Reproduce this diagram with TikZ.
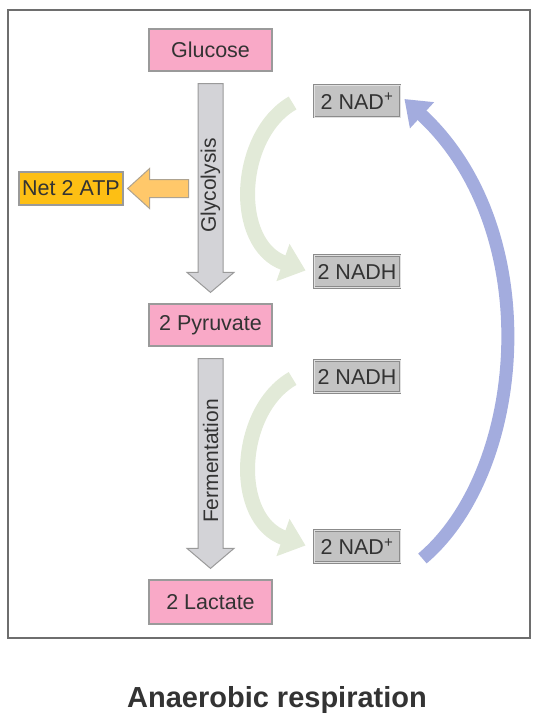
\documentclass[tikz,border=0pt]{standalone}
\usepackage{fontspec}
\setmainfont{Liberation Sans}
\usetikzlibrary{arrows.meta,positioning,calc}
\definecolor{pinkbox}{HTML}{F9A9C7}
\definecolor{nadgray}{HTML}{C3C3C3}
\definecolor{atpyellow}{HTML}{FDBF14}
\definecolor{atporange}{HTML}{FFC86A}
\definecolor{stepgray}{HTML}{D3D3D7}
\definecolor{cyclegreen}{HTML}{E2EAD8}
\definecolor{cycleblue}{HTML}{A3ACDE}
\definecolor{textdark}{HTML}{333333}
\definecolor{framegray}{HTML}{6E6E6E}
\definecolor{edgegray}{HTML}{9A9A9A}

% block arrow from one metabolite box down to the next one
\newcommand{\steparrow}[3]{%
  \draw[stepshape] ($(#1.south)+(-12.5,12)$) -- ($(#1.south)+(12.5,12)$)
    -- ($(#2.north)+(12.5,-31)$) -- ($(#2.north)+(23.5,-31)$)
    -- ($(#2.north)+(0,-11)$) -- ($(#2.north)+(-23.5,-31)$)
    -- ($(#2.north)+(-12.5,-31)$) -- cycle;
  \path ($(#1.south)+(0,12)$) -- node[pos=0.54, steplabel] {#3} ($(#2.north)+(0,-31)$);}

\begin{document}
\begin{tikzpicture}[x=1pt, y=-1pt,
    metabox/.style={rectangle, draw=edgegray, line width=1.2pt, fill=pinkbox,
                    minimum width=123pt, minimum height=42pt, inner sep=2pt,
                    text=textdark, font=\fontsize{21.5}{25}\selectfont},
    nadbox/.style={rectangle, draw=edgegray!90!black, double=white!88!black, double distance=0.8pt,
                   line width=0.8pt, fill=nadgray, minimum width=86pt, minimum height=32pt,
                   inner sep=1pt, text=textdark, font=\fontsize{21.5}{25}\selectfont},
    atpbox/.style={rectangle, draw=edgegray, line width=1.2pt, fill=atpyellow,
                   minimum width=104pt, minimum height=33pt, inner sep=1pt,
                   text=textdark, font=\fontsize{21.5}{25}\selectfont},
    stepshape/.style={draw=edgegray, line width=1pt, fill=stepgray, line join=miter},
    steplabel/.style={rotate=90, text=textdark, font=\fontsize{21}{25}\selectfont},
    atpshape/.style={draw=edgegray!80!atporange, line width=1pt, fill=atporange},
    greenloop/.style={draw=cyclegreen, line width=15pt, -{Triangle[width=38pt, length=24pt]}},
    blueloop/.style={draw=cycleblue, line width=13pt, -{Triangle[width=34pt, length=24pt]}}
  ]
  \useasboundingbox (0,0) rectangle (534,715);
  \draw[framegray, line width=2pt] (8,10) rectangle (530,638);

  % metabolites
  \node[metabox] (glu) at (210.5,50) {Glucose};
  \node[metabox] (pyr) at (210.5,325) {2 Pyruvate};
  \node[metabox, minimum height=44pt] (lac) at (210.5,602) {2 Lactate};
  \node[atpbox] (atp) at (71,188.5) {Net 2 ATP};

  % cofactors
  \node[nadbox] (nadA) at (357,101) {2 NAD\textsuperscript{+}};
  \node[nadbox] (nadhA) at (357,271.5) {2 NADH};
  \node[nadbox] (nadhB) at (357,376.5) {2 NADH};
  \node[nadbox] (nadB) at (357,546.5) {2 NAD\textsuperscript{+}};

  % pathway steps
  \steparrow{glu}{pyr}{Glycolysis}
  \steparrow{pyr}{lac}{Fermentation}
  \draw[atpshape] ($(atp.east)+(4,0)$) -- ++(22,-20) -- ++(0,11) -- ++(39,0)
    -- ++(0,18) -- ++(-39,0) -- ++(0,11) -- cycle;

  % NAD+/NADH cycling
  \draw[greenloop] ($(nadA.west)+(-21,2)$) .. controls +(-56,32) and +(-74,-26) .. ($(nadhA.west)+(-8,-1)$);
  \draw[greenloop] ($(nadhB.west)+(-21,2)$) .. controls +(-56,32) and +(-74,-26) .. ($(nadB.west)+(-8,-1)$);
  \draw[blueloop] ($(nadB.east)+(22,12)$) .. controls +(104,-88) and +(142,131) .. ($(nadA.east)+(4,-2)$);

  \node[text=textdark, font=\bfseries\fontsize{29}{34}\selectfont] (title) at (277,700) {Anaerobic respiration};
\end{tikzpicture}
\end{document}
